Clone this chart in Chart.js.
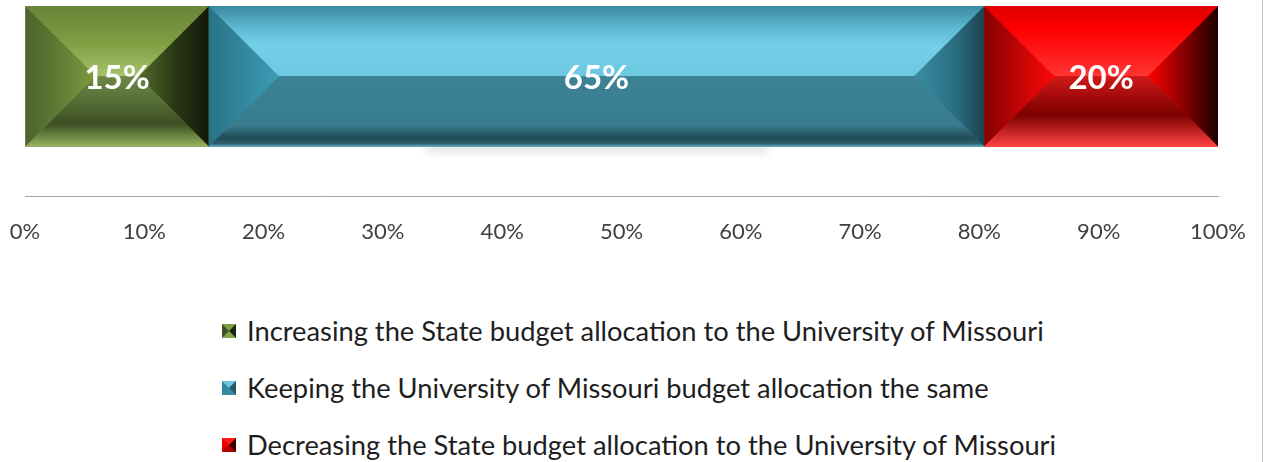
<!DOCTYPE html>
<html>
<head>
<meta charset="utf-8">
<script src="https://cdn.jsdelivr.net/npm/chart.js@4.4.1/dist/chart.umd.min.js"></script>
<style>
  html, body { margin:0; padding:0; background:#ffffff; width:1267px; height:462px; overflow:hidden; }
  #wrap { position:relative; width:1267px; height:462px; font-family: Lato, "Open Sans", sans-serif; }
  #c { position:absolute; left:0; top:0; }
  #edge { position:absolute; left:1262px; top:0; width:1px; height:462px; background:#c4c4c4; }
  #legend { position:absolute; left:222px; top:302px; margin:0; padding:0; list-style:none; }
  #legend li { display:flex; align-items:center; height:57px; font-size:27.3px; color:#1e1e1e; white-space:nowrap; }
  #legend .mk { width:0; height:0; border-style:solid; border-width:7px; margin-right:11px; flex:none; }
</style>
</head>
<body>
<div id="wrap">
  <canvas id="c" width="1267" height="248"></canvas>
  <ul id="legend"></ul>
  <div id="edge"></div>
</div>
<script>
// ---- data ----
const categories = ['University of Missouri budget'];
const seriesNames = [
  'Increasing the State budget allocation to the University of Missouri',
  'Keeping the University of Missouri budget allocation the same',
  'Decreasing the State budget allocation to the University of Missouri'
];
const increasing = [15.4];
const keeping = [65.0];
const decreasing = [19.6];
const tickLabels = ['0%','10%','20%','30%','40%','50%','60%','70%','80%','90%','100%'];

// ---- styles (bevel faces per series) ----
const faceStyles = [
  { base:'#6f8c39',
    top:[[0,'#68853a'],[0.5,'#7e9d41'],[1,'#a5c46b']],
    bottom:[[0,'#6d8646'],[0.35,'#566f38'],[0.68,'#3c4e23'],[1,'#94b35f']],
    left:[[0,'#4e632d'],[0.5,'#617d34'],[1,'#7d9d3f']],
    right:[[0,'#526d2c'],[0.5,'#2b3916'],[1,'#131808']],
    legend:{top:'#7f9e45', right:'#1c2410', bottom:'#86a64e', left:'#3f5126'} },
  { base:'#3d8aa0',
    top:[[0,'#3b8aa0'],[0.3,'#5cb8d0'],[0.55,'#73d0e8'],[1,'#6bc8e0']],
    bottom:[[0,'#3c8295'],[0.7,'#397c8f'],[0.88,'#224a57'],[0.96,'#2e606e'],[1,'#5aa4b9']],
    left:[[0,'#287287'],[1,'#3d9cb6']],
    right:[[0,'#3a8ea5'],[0.6,'#2b6d80'],[1,'#1a424e']],
    legend:{top:'#6cc6de', right:'#215a69', bottom:'#3a8aa0', left:'#2c88a0'} },
  { base:'#ff0000',
    top:[[0,'#e00000'],[0.35,'#ff0000'],[1,'#ff3535']],
    bottom:[[0,'#d01818'],[0.55,'#7c0000'],[1,'#ff4242']],
    left:[[0,'#840000'],[1,'#ff0808']],
    right:[[0,'#ff0000'],[0.5,'#8a0000'],[1,'#1c0000']],
    legend:{top:'#ff1a1a', right:'#3a0000', bottom:'#b00000', left:'#e80000'} }
];

const seriesValues = [increasing, keeping, decreasing];

function grad(ctx, x0, y0, x1, y1, stops) {
  const g = ctx.createLinearGradient(x0, y0, x1, y1);
  stops.forEach(s => g.addColorStop(s[0], s[1]));
  return g;
}
function poly(ctx, pts, fill) {
  ctx.beginPath();
  ctx.moveTo(pts[0][0], pts[0][1]);
  for (let i = 1; i < pts.length; i++) ctx.lineTo(pts[i][0], pts[i][1]);
  ctx.closePath();
  ctx.fillStyle = fill;
  ctx.fill();
}

const bevelPlugin = {
  id: 'bevel',
  beforeDatasetsDraw(chart) {
    const ctx = chart.ctx;
    const meta = chart.getDatasetMeta(1);
    meta.data.forEach(el => {
      const L = Math.min(el.x, el.base), R = Math.max(el.x, el.base);
      const B = el.y + el.height / 2;
      const cx = (L + R) / 2, w = (R - L) * 0.44;
      ctx.save();
      ctx.filter = 'blur(4px)';
      ctx.fillStyle = 'rgba(0,0,0,0.13)';
      ctx.fillRect(cx - w / 2, B - 2, w, 8);
      ctx.restore();
    });
  },
  afterDatasetsDraw(chart) {
    const ctx = chart.ctx;
    chart.data.datasets.forEach((ds, di) => {
      const st = faceStyles[di];
      const meta = chart.getDatasetMeta(di);
      meta.data.forEach((el, i) => {
        const L = Math.min(el.x, el.base), R = Math.max(el.x, el.base);
        const T = el.y - el.height / 2, B = el.y + el.height / 2;
        const b = Math.min(el.height / 2, (R - L) / 2);
        ctx.save();
        poly(ctx, [[L,T],[R,T],[R-b,T+b],[L+b,T+b]], grad(ctx, 0, T, 0, T + b, st.top));
        poly(ctx, [[L,B],[R,B],[R-b,B-b],[L+b,B-b]], grad(ctx, 0, B - b, 0, B, st.bottom));
        poly(ctx, [[L,T],[L+b,T+b],[L+b,B-b],[L,B]], grad(ctx, L, 0, L + b, 0, st.left));
        poly(ctx, [[R,T],[R-b,T+b],[R-b,B-b],[R,B]], grad(ctx, R - b, 0, R, 0, st.right));
        // label
        const v = ds.data[i].x;
        ctx.fillStyle = '#ffffff';
        ctx.font = 'bold 33px Lato, "Open Sans", sans-serif';
        ctx.textAlign = 'center';
        ctx.textBaseline = 'middle';
        ctx.fillText(Math.round(v) + '%', (L + R) / 2, el.y + 2);
        ctx.restore();
      });
    });
  }
};

const datasets = seriesValues.map((vals, si) => ({
  label: seriesNames[si],
  data: vals.map((v, i) => ({ x: v, y: i })),
  backgroundColor: faceStyles[si].base,
  borderWidth: 0,
  barThickness: 140
}));

const chart = new Chart(document.getElementById('c'), {
  type: 'bar',
  data: { labels: categories, datasets },
  options: {
    indexAxis: 'y',
    responsive: false,
    animation: false,
    layout: { padding: { left: 25, right: 49, top: 5, bottom: 0 } },
    plugins: { legend: { display: false }, tooltip: { enabled: false } },
    scales: {
      x: {
        type: 'linear', stacked: true, min: 0, max: 100,
        grid: { display: true, drawOnChartArea: false, drawTicks: true, tickLength: 19, tickColor: 'rgba(0,0,0,0)' },
        border: { display: true, color: '#a6a6a6', width: 1 },
        ticks: {
          stepSize: 10, padding: 3, color: '#404040',
          font: { family: 'Lato', size: 22 },
          callback: (v, idx) => tickLabels[idx]
        }
      },
      y: { type: 'linear', stacked: true, min: -1.85, max: 1, display: false }
    }
  },
  plugins: [bevelPlugin]
});

// HTML legend built from the chart's datasets
const ul = document.getElementById('legend');
chart.data.datasets.forEach((ds, i) => {
  const li = document.createElement('li');
  const mk = document.createElement('span');
  mk.className = 'mk';
  const c = faceStyles[i].legend;
  mk.style.borderColor = `${c.top} ${c.right} ${c.bottom} ${c.left}`;
  const tx = document.createElement('span');
  tx.textContent = ds.label;
  li.appendChild(mk);
  li.appendChild(tx);
  ul.appendChild(li);
});
</script>
</body>
</html>
